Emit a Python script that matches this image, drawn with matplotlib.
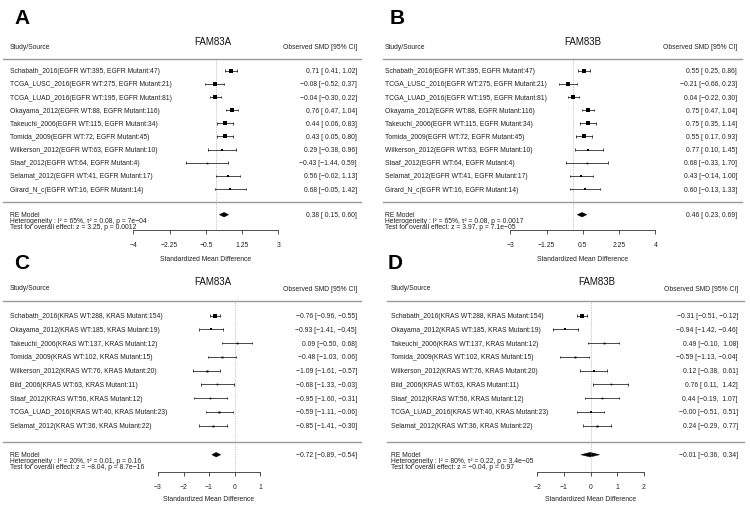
import matplotlib
matplotlib.use("Agg")
import matplotlib.pyplot as plt
import matplotlib.transforms as mtransforms
from matplotlib.patches import Polygon
import numpy as np

plt.rcParams['font.family'] = ['Liberation Sans', 'DejaVu Sans']

W, H = 750, 510

# ---------------- data ----------------
egfr_studies = [
    "Schabath_2016(EGFR WT:395, EGFR Mutant:47)",
    "TCGA_LUSC_2016(EGFR WT:275, EGFR Mutant:21)",
    "TCGA_LUAD_2016(EGFR WT:195, EGFR Mutant:81)",
    "Okayama_2012(EGFR WT:88, EGFR Mutant:116)",
    "Takeuchi_2006(EGFR WT:115, EGFR Mutant:34)",
    "Tomida_2009(EGFR WT:72, EGFR Mutant:45)",
    "Wilkerson_2012(EGFR WT:63, EGFR Mutant:10)",
    "Staaf_2012(EGFR WT:64, EGFR Mutant:4)",
    "Selamat_2012(EGFR WT:41, EGFR Mutant:17)",
    "Girard_N_c(EGFR WT:16, EGFR Mutant:14)",
]
kras_studies = [
    "Schabath_2016(KRAS WT:288, KRAS Mutant:154)",
    "Okayama_2012(KRAS WT:185, KRAS Mutant:19)",
    "Takeuchi_2006(KRAS WT:137, KRAS Mutant:12)",
    "Tomida_2009(KRAS WT:102, KRAS Mutant:15)",
    "Wilkerson_2012(KRAS WT:76, KRAS Mutant:20)",
    "Bild_2006(KRAS WT:63, KRAS Mutant:11)",
    "Staaf_2012(KRAS WT:56, KRAS Mutant:12)",
    "TCGA_LUAD_2016(KRAS WT:40, KRAS Mutant:23)",
    "Selamat_2012(KRAS WT:36, KRAS Mutant:22)",
]

a_est = [0.71, -0.08, -0.04, 0.76, 0.44, 0.43, 0.29, -0.43, 0.56, 0.68]
a_lb = [0.41, -0.52, -0.30, 0.47, 0.06, 0.05, -0.38, -1.44, -0.02, -0.05]
a_ub = [1.02, 0.37, 0.22, 1.04, 0.83, 0.80, 0.96, 0.59, 1.13, 1.42]
a_re = [0.38, 0.15, 0.60]
a_het = "Heterogeneity : I² = 65%, τ² = 0.08, p = 7e−04"
a_test = "Test for overall effect: z = 3.25, p = 0.0012"
a_ticks = [-4, -2.25, -0.5, 1.25, 3]

b_est = [0.55, -0.21, 0.04, 0.75, 0.75, 0.55, 0.77, 0.68, 0.43, 0.60]
b_lb = [0.25, -0.66, -0.22, 0.47, 0.35, 0.17, 0.10, -0.33, -0.14, -0.13]
b_ub = [0.86, 0.23, 0.30, 1.04, 1.14, 0.93, 1.45, 1.70, 1.00, 1.33]
b_re = [0.46, 0.23, 0.69]
b_het = "Heterogeneity : I² = 65%, τ² = 0.08, p = 0.0017"
b_test = "Test for overall effect: z = 3.97, p = 7.1e−05"
b_ticks = [-3, -1.25, 0.5, 2.25, 4]

c_est = [-0.76, -0.93, 0.09, -0.48, -1.09, -0.68, -0.95, -0.59, -0.85]
c_lb = [-0.96, -1.41, -0.50, -1.03, -1.61, -1.33, -1.60, -1.11, -1.41]
c_ub = [-0.55, -0.45, 0.68, 0.06, -0.57, -0.03, -0.31, -0.06, -0.30]
c_re = [-0.72, -0.89, -0.54]
c_het = "Heterogeneity : I² = 20%, τ² = 0.01, p = 0.16"
c_test = "Test for overall effect: z = −8.04, p = 8.7e−16"
c_ticks = [-3, -2, -1, 0, 1]

d_est = [-0.31, -0.94, 0.49, -0.59, 0.12, 0.76, 0.44, -0.0, 0.24]
d_lb = [-0.51, -1.42, -0.10, -1.13, -0.38, 0.11, -0.19, -0.51, -0.29]
d_ub = [-0.12, -0.46, 1.08, -0.04, 0.61, 1.42, 1.07, 0.51, 0.77]
d_re = [-0.01, -0.36, 0.34]
d_het = "Heterogeneity : I² = 80%, τ² = 0.22, p = 3.4e−05"
d_test = "Test for overall effect: z = −0.04, p = 0.97"
d_ticks = [-2, -1, 0, 1, 2]

# ---------------- layout (pixels) ----------------
TOP_LAYOUT = dict(letter_y=18.5, title_y=41.7, head_y=47.0, hline_y=60.0,
                  row0=71.7, row_dy=13.15, sep_y=203.3, re_y=215.7,
                  het_y=221.7, test_y=227.3, axis_y=230.7, xlab_y=259.3, top=0)
BOT_LAYOUT = dict(letter_y=264.0, title_y=281.7, head_y=288.5, hline_y=302.3,
                  row0=316.7, row_dy=13.75, sep_y=443.3, re_y=455.7,
                  het_y=461.7, test_y=467.3, axis_y=473.3, xlab_y=500.0, top=262)

panels = [
    dict(letter="A", title="FAM83A", studies=egfr_studies, est=a_est, lb=a_lb, ub=a_ub,
         re=a_re, het=a_het, test=a_test, ticks=a_ticks, lay=TOP_LAYOUT,
         line_l=3, line_r=361, label_x=10, val_r=357, title_x=213, letter_x=14,
         zero_px=216.2, ppu=20.71),
    dict(letter="B", title="FAM83B", studies=egfr_studies, est=b_est, lb=b_lb, ub=b_ub,
         re=b_re, het=b_het, test=b_test, ticks=b_ticks, lay=TOP_LAYOUT,
         line_l=383, line_r=742, label_x=385, val_r=737, title_x=583, letter_x=390,
         zero_px=572.5, ppu=20.71),
    dict(letter="C", title="FAM83A", studies=kras_studies, est=c_est, lb=c_lb, ub=c_ub,
         re=c_re, het=c_het, test=c_test, ticks=c_ticks, lay=BOT_LAYOUT,
         line_l=3, line_r=361, label_x=10, val_r=357, title_x=213, letter_x=14,
         zero_px=234.5, ppu=25.5),
    dict(letter="D", title="FAM83B", studies=kras_studies, est=d_est, lb=d_lb, ub=d_ub,
         re=d_re, het=d_het, test=d_test, ticks=d_ticks, lay=BOT_LAYOUT,
         line_l=387, line_r=744, label_x=391, val_r=738, title_x=597, letter_x=388,
         zero_px=590.5, ppu=26.7),
]

TXT = '#222222'
FS = 4.9


def fmt(v, pad):
    s = f"{v:.2f}".replace('-', '\u2212')
    if pad and not s.startswith('\u2212'):
        s = ' ' + s
    return s


def fmt_tick(t):
    s = f"{t:g}"
    return s.replace('-', '\u2212')


fig = plt.figure(figsize=(W / 100, H / 100), dpi=100)
fig.patch.set_facecolor('white')
px_x = mtransforms.Affine2D().scale(1.0 / W, 1.0) + fig.transFigure

for p in panels:
    L = p['lay']
    ax = fig.add_axes([p['line_l'] / W, 1 - L['axis_y'] / H,
                       (p['line_r'] - p['line_l']) / W, (L['axis_y'] - L['top']) / H])
    ax.patch.set_visible(False)
    ax.set_xlim((p['line_l'] - p['zero_px']) / p['ppu'], (p['line_r'] - p['zero_px']) / p['ppu'])
    ax.set_ylim(L['axis_y'], L['top'])
    for s in ['top', 'left', 'right']:
        ax.spines[s].set_visible(False)
    ax.spines['bottom'].set_bounds(p['ticks'][0], p['ticks'][-1])
    ax.spines['bottom'].set_linewidth(0.6)
    ax.spines['bottom'].set_color('#333333')
    ax.set_yticks([])
    ax.set_xticks(p['ticks'])
    ax.set_xticklabels([fmt_tick(t) for t in p['ticks']])
    ax.tick_params(axis='x', direction='out', length=3.0, width=0.6, pad=5.0,
                   labelsize=FS, colors='#333333', labelcolor=TXT)

    tpx = mtransforms.blended_transform_factory(px_x, ax.transData)

    est = np.array(p['est']); lb = np.array(p['lb']); ub = np.array(p['ub'])
    n = len(est)
    ys = L['row0'] + L['row_dy'] * np.arange(n)

    # reference lines
    ax.axhline(L['hline_y'], color='#999999', lw=1.0, clip_on=False)
    ax.axhline(L['sep_y'], color='#999999', lw=1.0, clip_on=False)
    ax.vlines(0, L['hline_y'], L['axis_y'], colors='#999999', lw=0.5,
              linestyles=(0, (1, 1.5)))

    # marker sizes from inverse standard error
    se = (ub - lb) / 3.92
    w = 1 / se
    norm = (w - w.min()) / (w.max() - w.min())
    side_px = 1.6 + 3.4 * norm

    pad_lb = any(v < 0 for v in list(lb) + [p['re'][1]])
    pad_ub = any(v < 0 for v in list(ub) + [p['re'][2]])

    for i in range(n):
        y = ys[i]
        ax.hlines(y, lb[i], ub[i], colors='black', lw=0.5)
        ax.vlines([lb[i], ub[i]], y - 1.3, y + 1.3, colors='black', lw=0.5)
        ax.plot(est[i], y, marker='s', ms=side_px[i] * 0.72, color='black',
                markeredgewidth=0, linestyle='none')
        ax.text(p['label_x'], y, p['studies'][i], transform=tpx, ha='left', va='center',
                fontsize=FS, color=TXT)
        ax.text(p['val_r'], y, f"{fmt(est[i], False)} [{fmt(lb[i], pad_lb)}, {fmt(ub[i], pad_ub)}]",
                transform=tpx, ha='right', va='center', fontsize=FS, color=TXT)

    # summary diamond
    re_est, re_lb, re_ub = p['re']
    yr = L['re_y']
    dia = Polygon([(re_lb, yr), (re_est, yr - 2.3), (re_ub, yr), (re_est, yr + 2.3)],
                  closed=True, facecolor='black', edgecolor='black', lw=0.3)
    ax.add_patch(dia)
    ax.text(p['val_r'], yr, f"{fmt(re_est, False)} [{fmt(re_lb, pad_lb)}, {fmt(re_ub, pad_ub)}]",
            transform=tpx, ha='right', va='center', fontsize=FS, color=TXT)
    ax.text(p['label_x'], yr, "RE Model", transform=tpx, ha='left', va='center',
            fontsize=FS, color=TXT)
    ax.text(p['label_x'], L['het_y'], p['het'], transform=tpx, ha='left', va='center',
            fontsize=FS, color=TXT)
    ax.text(p['label_x'], L['test_y'], p['test'], transform=tpx, ha='left', va='center',
            fontsize=FS, color=TXT)

    # headers
    ax.text(p['label_x'], L['head_y'], "Study/Source", transform=tpx, ha='left', va='center',
            fontsize=FS, color=TXT)
    ax.text(p['val_r'], L['head_y'] + 0.8, "Observed SMD [95% CI]", transform=tpx, ha='right',
            va='center', fontsize=FS, color=TXT)
    ax.text(p['title_x'], L['title_y'], p['title'], transform=tpx, ha='center', va='center',
            fontsize=7, color='#111111')
    ax.text(p['letter_x'], L['letter_y'], p['letter'], transform=tpx, ha='left', va='center',
            fontsize=15, fontweight='bold', color='black')

    # x label
    ax.text((p['ticks'][0] + p['ticks'][-1]) / 2, L['xlab_y'], "Standardized Mean Difference",
            transform=ax.transData, ha='center', va='center', fontsize=FS, color=TXT,
            clip_on=False)

fig.savefig("out.png", dpi=100, facecolor='white')
